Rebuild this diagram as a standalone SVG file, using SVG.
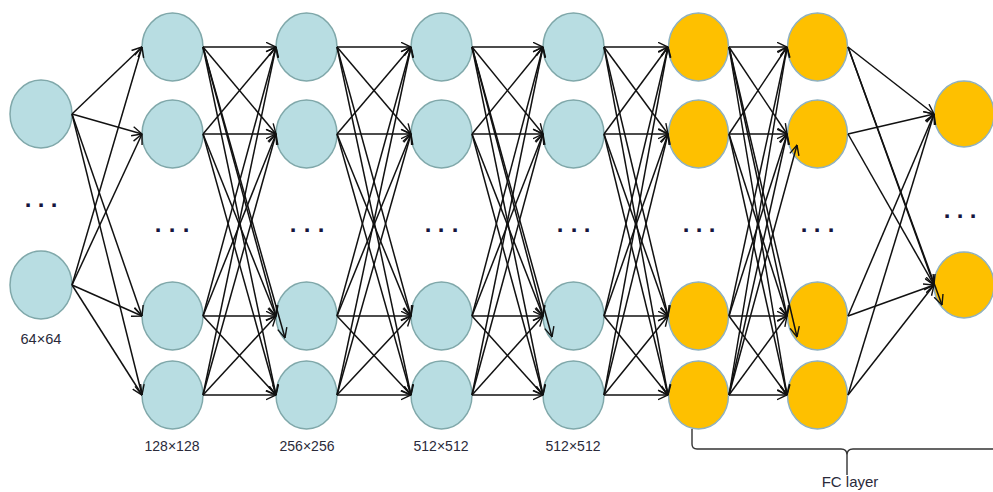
<svg xmlns="http://www.w3.org/2000/svg" width="993" height="492" viewBox="0 0 993 492">
  <defs>
    <marker id="ah" markerUnits="userSpaceOnUse" viewBox="0 0 11 11" markerWidth="11" markerHeight="11" refX="10.5" refY="5.5" orient="auto">
      <path d="M0.5 0.8 L10.5 5.5 L0.5 10.2" fill="none" stroke="#111" stroke-width="1.4"/>
    </marker>
    <style>
      .b{fill:#b8dde2;stroke:#80a8aa;stroke-width:1.5}
      .o{fill:#fec000;stroke:#8fb1c0;stroke-width:1.5}
      .c path{fill:none;stroke:#111;stroke-width:1.5;marker-end:url(#ah)}
      .lbl{font-family:"Liberation Sans",Arial,sans-serif;font-size:15px;fill:#2a2a3a;text-anchor:middle}
      .dots{font-family:"Liberation Sans",Arial,sans-serif;font-size:24px;font-weight:bold;fill:#16163c;text-anchor:middle}
      .brace{fill:none;stroke:#333;stroke-width:1.4}
    </style>
  </defs>
  <rect width="993" height="492" fill="#fff"/>

  <!-- input layer -->
  <g id="n0_0"><ellipse class="b" cx="41" cy="114" rx="31" ry="34"/></g>
  <g id="n0_1"><ellipse class="b" cx="41" cy="285" rx="31" ry="34"/></g>

  <!-- 128x128 -->
  <g id="n1_0"><ellipse class="b" cx="172.5" cy="47" rx="30.5" ry="34"/></g>
  <g id="n1_1"><ellipse class="b" cx="172.5" cy="134" rx="30.5" ry="34"/></g>
  <g id="n1_2"><ellipse class="b" cx="172.5" cy="316" rx="30.5" ry="34"/></g>
  <g id="n1_3"><ellipse class="b" cx="172.5" cy="395" rx="30.5" ry="34"/></g>

  <!-- 256x256 -->
  <g id="n2_0"><ellipse class="b" cx="306.5" cy="47" rx="30.5" ry="34"/></g>
  <g id="n2_1"><ellipse class="b" cx="306.5" cy="134" rx="30.5" ry="34"/></g>
  <g id="n2_2"><ellipse class="b" cx="306.5" cy="316" rx="30.5" ry="34"/></g>
  <g id="n2_3"><ellipse class="b" cx="306.5" cy="395" rx="30.5" ry="34"/></g>

  <!-- 512x512 -->
  <g id="n3_0"><ellipse class="b" cx="441.5" cy="47" rx="30.5" ry="34"/></g>
  <g id="n3_1"><ellipse class="b" cx="441.5" cy="134" rx="30.5" ry="34"/></g>
  <g id="n3_2"><ellipse class="b" cx="441.5" cy="316" rx="30.5" ry="34"/></g>
  <g id="n3_3"><ellipse class="b" cx="441.5" cy="395" rx="30.5" ry="34"/></g>

  <!-- 512x512 -->
  <g id="n4_0"><ellipse class="b" cx="573.5" cy="47" rx="30.5" ry="34"/></g>
  <g id="n4_1"><ellipse class="b" cx="573.5" cy="134" rx="30.5" ry="34"/></g>
  <g id="n4_2"><ellipse class="b" cx="573.5" cy="316" rx="30.5" ry="34"/></g>
  <g id="n4_3"><ellipse class="b" cx="573.5" cy="395" rx="30.5" ry="34"/></g>

  <!-- fully connected layers -->
  <g id="n5_0"><ellipse class="o" cx="698.5" cy="47" rx="30" ry="34"/></g>
  <g id="n5_1"><ellipse class="o" cx="698.5" cy="134" rx="30" ry="34"/></g>
  <g id="n5_2"><ellipse class="o" cx="698.5" cy="316" rx="30" ry="34"/></g>
  <g id="n5_3"><ellipse class="o" cx="698.5" cy="395" rx="30" ry="34"/></g>

  <g id="n6_0"><ellipse class="o" cx="817.5" cy="47" rx="30" ry="34"/></g>
  <g id="n6_1"><ellipse class="o" cx="817.5" cy="134" rx="30" ry="34"/></g>
  <g id="n6_2"><ellipse class="o" cx="817.5" cy="316" rx="30" ry="34"/></g>
  <g id="n6_3"><ellipse class="o" cx="817.5" cy="395" rx="30" ry="34"/></g>

  <g id="n7_0"><ellipse class="o" cx="964" cy="114" rx="30" ry="33"/></g>
  <g id="n7_1"><ellipse class="o" cx="964" cy="285" rx="30" ry="33"/></g>

  <!-- connectors -->
  <g id="connectors" class="c">
    <path d="M72 114L142 47"/><path d="M72 114L142 134"/><path d="M72 114L142 316"/><path d="M72 114L142 395"/>
    <path d="M72 285L142 47"/><path d="M72 285L142 134"/><path d="M72 285L142 316"/><path d="M72 285L142 395"/>

    <path d="M203 47L276 47"/><path d="M203 47L276 134"/><path d="M203 47L276 316"/><path d="M203 47L276 395"/>
    <path d="M203 134L276 47"/><path d="M203 134L276 134"/><path d="M203 134L276 316"/><path d="M203 134L276 395"/>
    <path d="M203 316L276 47"/><path d="M203 316L276 134"/><path d="M203 316L276 316"/><path d="M203 316L276 395"/>
    <path d="M203 395L276 47"/><path d="M203 395L276 134"/><path d="M203 395L276 316"/><path d="M203 395L276 395"/>
    <path d="M203 47L285 338"/>

    <path d="M337 47L411 47"/><path d="M337 47L411 134"/><path d="M337 47L411 316"/><path d="M337 47L411 395"/>
    <path d="M337 134L411 47"/><path d="M337 134L411 134"/><path d="M337 134L411 316"/><path d="M337 134L411 395"/>
    <path d="M337 316L411 47"/><path d="M337 316L411 134"/><path d="M337 316L411 316"/><path d="M337 316L411 395"/>
    <path d="M337 395L411 47"/><path d="M337 395L411 134"/><path d="M337 395L411 316"/><path d="M337 395L411 395"/>

    <path d="M472 47L543 47"/><path d="M472 47L543 134"/><path d="M472 47L543 316"/><path d="M472 47L543 395"/>
    <path d="M472 134L543 47"/><path d="M472 134L543 134"/><path d="M472 134L543 316"/><path d="M472 134L543 395"/>
    <path d="M472 316L543 47"/><path d="M472 316L543 134"/><path d="M472 316L543 316"/><path d="M472 316L543 395"/>
    <path d="M472 395L543 47"/><path d="M472 395L543 134"/><path d="M472 395L543 316"/><path d="M472 395L543 395"/>
    <path d="M472 47L552 337"/>

    <path d="M604 47L668 47"/><path d="M604 47L668 134"/><path d="M604 47L668 316"/><path d="M604 47L668 395"/>
    <path d="M604 134L668 47"/><path d="M604 134L668 134"/><path d="M604 134L668 316"/><path d="M604 134L668 395"/>
    <path d="M604 316L668 47"/><path d="M604 316L668 134"/><path d="M604 316L668 316"/><path d="M604 316L668 395"/>
    <path d="M604 395L668 47"/><path d="M604 395L668 134"/><path d="M604 395L668 316"/><path d="M604 395L668 395"/>

    <path d="M729 47L787 47"/><path d="M729 47L787 134"/><path d="M729 47L787 316"/><path d="M729 47L787 395"/>
    <path d="M729 134L787 47"/><path d="M729 134L787 134"/><path d="M729 134L787 316"/><path d="M729 134L787 395"/>
    <path d="M729 316L787 47"/><path d="M729 316L787 134"/><path d="M729 316L787 316"/><path d="M729 316L787 395"/>
    <path d="M729 395L787 47"/><path d="M729 395L787 134"/><path d="M729 395L787 316"/><path d="M729 395L787 395"/>
    <path d="M729 47L797 337"/><path d="M729 395L797 145"/>

    <path d="M848 47L934 114"/><path d="M848 47L934 285"/>
    <path d="M848 134L934 114"/><path d="M848 134L934 285"/>
    <path d="M848 316L934 114"/><path d="M848 316L934 285"/>
    <path d="M848 395L934 114"/><path d="M848 395L934 285"/>
    <path d="M848 47L942 305"/>
  </g>

  <!-- ellipsis marks -->
  <text class="dots" x="28 41 54" y="207">...</text>
  <text class="dots" x="158 172 186" y="232">...</text>
  <text class="dots" x="293 307 321" y="232">...</text>
  <text class="dots" x="428 441 455" y="232">...</text>
  <text class="dots" x="560 574 587" y="232">...</text>
  <text class="dots" x="686 699 712" y="232">...</text>
  <text class="dots" x="804 817 831" y="232">...</text>
  <text class="dots" x="947 960 973" y="218">...</text>

  <!-- size labels -->
  <text class="lbl" x="41" y="344" textLength="41" lengthAdjust="spacingAndGlyphs">64×64</text>
  <text class="lbl" x="172" y="451" textLength="55" lengthAdjust="spacingAndGlyphs">128×128</text>
  <text class="lbl" x="307" y="451" textLength="55" lengthAdjust="spacingAndGlyphs">256×256</text>
  <text class="lbl" x="441" y="451" textLength="55" lengthAdjust="spacingAndGlyphs">512×512</text>
  <text class="lbl" x="573" y="451" textLength="55" lengthAdjust="spacingAndGlyphs">512×512</text>

  <!-- FC layer bracket -->
  <path class="brace" d="M692 429V444Q692 449 697 449H841Q847 449 847 455V475M847 455Q847 449 853 449H995"/>
  <text class="lbl" x="850" y="487">FC layer</text>
</svg>
